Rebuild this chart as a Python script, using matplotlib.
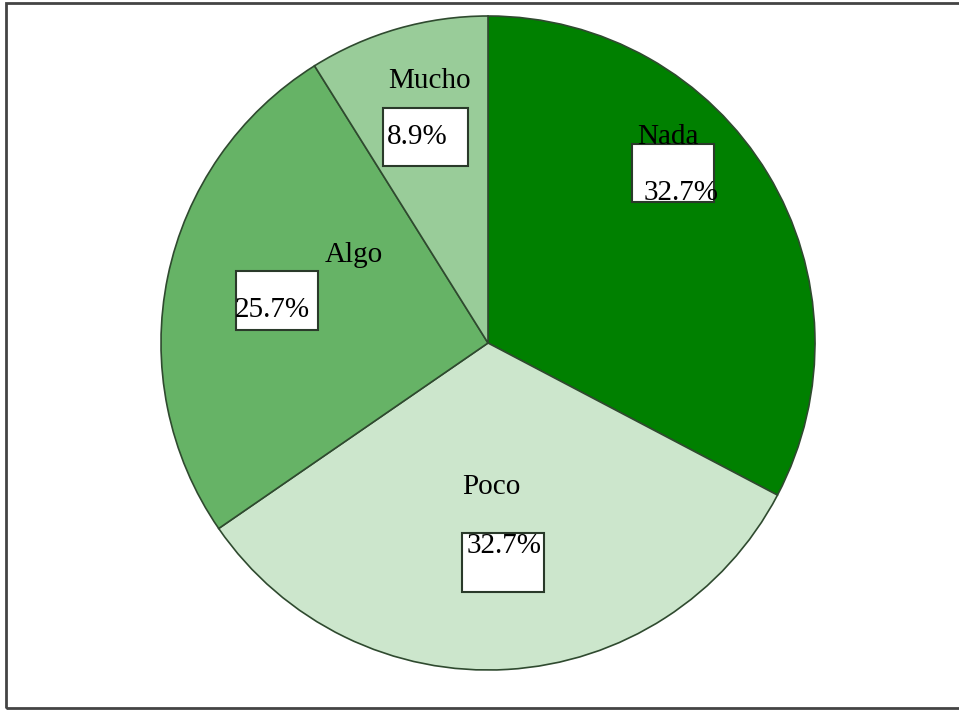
import matplotlib.pyplot as plt
from matplotlib.patches import Rectangle

plt.rcParams['font.family'] = ['Liberation Serif', 'DejaVu Serif']

categories = ['Nada', 'Poco', 'Algo', 'Mucho']
percents = [32.7, 32.7, 25.7, 8.9]
colors = ['#008000', '#cce6cc', '#66b366', '#99cc99']
pct_labels = ['32.7%', '32.7%', '25.7%', '8.9%']

# label layout in pie units (center 0,0 radius 1): name pos, box (x0, y0, w, h), pct pos
name_pos = [(0.55, 0.63), (0.01, -0.44), (-0.41, 0.27), (-0.18, 0.80)]
box_rect = [(0.44, 0.43, 0.25, 0.18), (-0.08, -0.76, 0.25, 0.18),
            (-0.77, 0.04, 0.25, 0.18), (-0.32, 0.54, 0.26, 0.18)]
pct_pos = [(0.59, 0.46), (0.05, -0.62), (-0.66, 0.10), (-0.31, 0.63)]
pct_ha = ['center', 'center', 'center', 'left']

fig = plt.figure(figsize=(9.59, 7.11), dpi=100)
ax = fig.add_axes([0, 0, 1, 1])
ax.pie(percents, colors=colors, startangle=90, counterclock=False,
       radius=1.0, wedgeprops=dict(edgecolor='#2f4a2f', linewidth=1.2))

for i, name in enumerate(categories):
    x0, y0, w, h = box_rect[i]
    ax.add_patch(Rectangle((x0, y0), w, h, facecolor='white',
                           edgecolor='#2a3a2a', linewidth=1.5, zorder=3))
    ax.text(name_pos[i][0], name_pos[i][1], name, fontsize=21,
            ha='center', va='center', zorder=4)
    ax.text(pct_pos[i][0], pct_pos[i][1], pct_labels[i], fontsize=21,
            ha=pct_ha[i], va='center', zorder=4)

ax.set_aspect('auto')
ax.set_xlim(-488 / 327, (959 - 488) / 327)
ax.set_ylim((343 - 711) / 327, 343 / 327)
ax.axis('off')

# outer frame
fig.patches.append(Rectangle((6 / 959, 1 - 708 / 711), 1.0, (708 - 3) / 711,
                             transform=fig.transFigure, fill=False,
                             edgecolor='#444444', linewidth=2))

fig.savefig('out.png', dpi=100)
